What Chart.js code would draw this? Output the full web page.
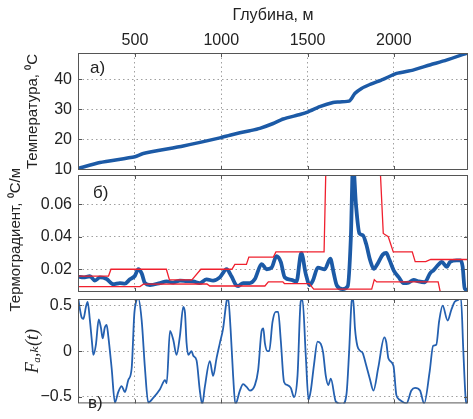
<!DOCTYPE html>
<html>
<head>
<meta charset="utf-8">
<script src="https://cdn.jsdelivr.net/npm/chart.js@4"></script>
<style>
  html, body { margin: 0; padding: 0; background: #fff; }
  #wrap { position: relative; width: 473px; height: 419px; }
  #wrap canvas { position: absolute; left: 0; top: 0; }
</style>
</head>
<body>
<div id="wrap">
  <canvas id="chartA" width="473" height="419"></canvas>
  <canvas id="chartB" width="473" height="419"></canvas>
  <canvas id="chartC" width="473" height="419"></canvas>
</div>
<script>
// ============================================================
// DATA
// ============================================================
const depthMin = 170, depthMax = 2430;
const depthTicks = [500, 1000, 1500, 2000];

// a) temperature
const tempTicks = [10, 20, 30, 40];
const tempDepth  = [170, 297, 500, 548, 780, 992, 1050, 1108, 1166, 1224, 1301, 1359, 1456, 1504, 1571, 1648, 1687, 1745, 1774, 1813, 1861, 1938, 2016, 2111, 2208, 2305, 2421, 2430];
const tempValues = [10.2, 12.2, 14.1, 15.2, 17.7, 20.4, 21.3, 22.1, 22.8, 23.6, 25.2, 26.7, 28.2, 29.1, 30.8, 32.2, 32.4, 32.8, 35.2, 36.9, 38.2, 39.9, 41.9, 43.0, 44.7, 46.3, 48.6, 48.8];

// б) thermal gradient + red bounds
const gradTicks = [0.02, 0.04, 0.06];
const gradDepth  = [170, 201, 239, 268, 297, 336, 374, 413, 442, 471, 500, 519, 539, 558, 587, 645, 684, 722, 761, 799, 838, 876, 915, 953, 992, 1031, 1060, 1085, 1098, 1127, 1166, 1195, 1234, 1263, 1292, 1320, 1345, 1368, 1407, 1436, 1464, 1490, 1513, 1531, 1560, 1600, 1632, 1652, 1670, 1704, 1733, 1751, 1764, 1781, 1801, 1820, 1840, 1863, 1884, 1904, 1936, 1956, 1974, 2000, 2027, 2056, 2086, 2115, 2144, 2179, 2210, 2231, 2260, 2278, 2307, 2326, 2364, 2388, 2399, 2411, 2428];
const gradValues = [0.0155, 0.0150, 0.0157, 0.0130, 0.0150, 0.0140, 0.0108, 0.0115, 0.0112, 0.0138, 0.0160, 0.0200, 0.0175, 0.0115, 0.0103, 0.0115, 0.0125, 0.0118, 0.0130, 0.0127, 0.0125, 0.0115, 0.0138, 0.0130, 0.0150, 0.0200, 0.0155, 0.0103, 0.0097, 0.0115, 0.0115, 0.0140, 0.0232, 0.0200, 0.0210, 0.0280, 0.0245, 0.0150, 0.0135, 0.0124, 0.0300, 0.0170, 0.0103, 0.0130, 0.0210, 0.0200, 0.0265, 0.0175, 0.0100, 0.0078, 0.0095, 0.0390, 0.0850, 0.0594, 0.0420, 0.0410, 0.0355, 0.0255, 0.0202, 0.0230, 0.0290, 0.0300, 0.0260, 0.0192, 0.0153, 0.0115, 0.0118, 0.0135, 0.0125, 0.0120, 0.0175, 0.0195, 0.0230, 0.0245, 0.0215, 0.0245, 0.0255, 0.0255, 0.0215, 0.0081, 0.0071];

const upperDepth  = [170, 347, 361, 682, 700, 830, 882, 1062, 1079, 1146, 1160, 1302, 1317, 1596, 1610, 1913, 1939, 1968, 1997, 2107, 2124, 2185, 2214, 2430];
const upperValues = [0.0158, 0.0158, 0.0200, 0.0200, 0.0135, 0.0135, 0.0200, 0.0200, 0.0230, 0.0230, 0.0275, 0.0275, 0.0307, 0.0307, 0.1, 0.1, 0.0420, 0.0400, 0.0307, 0.0307, 0.0247, 0.0247, 0.0260, 0.0260];

const lowerDepth  = [170, 529, 549, 917, 934, 1253, 1273, 1357, 1366, 1510, 1536, 1872, 1887, 1901, 2257, 2269, 2430];
const lowerValues = [0.0093, 0.0093, 0.0108, 0.0110, 0.0097, 0.0097, 0.0122, 0.0122, 0.0112, 0.0112, 0.0078, 0.0078, 0.0136, 0.0122, 0.0122, 0.0062, 0.0062];

// в) F_a,k(t)
const funcTicks = [-0.5, 0, 0.5];
const funcDepth  = [172, 182, 191, 201, 216, 226, 239, 251, 259, 274, 290, 303, 313, 325, 336, 345, 365, 384, 403, 423, 442, 461, 481, 496, 508, 519, 539, 558, 577, 606, 645, 674, 684, 703, 722, 741, 761, 780, 790, 799, 809, 828, 838, 857, 876, 890, 905, 934, 953, 973, 992, 1011, 1031, 1040, 1054, 1069, 1082, 1108, 1127, 1147, 1166, 1195, 1214, 1234, 1244, 1253, 1268, 1278, 1297, 1316, 1330, 1345, 1364, 1384, 1403, 1422, 1442, 1461, 1471, 1490, 1506, 1519, 1538, 1558, 1577, 1590, 1606, 1620, 1635, 1664, 1703, 1726, 1741, 1756, 1764, 1775, 1789, 1808, 1820, 1838, 1861, 1882, 1910, 1945, 1956, 1969, 1998, 2015, 2034, 2073, 2102, 2123, 2152, 2176, 2208, 2228, 2246, 2263, 2283, 2312, 2333, 2353, 2373, 2389, 2403, 2417, 2428];
const funcValues = [0.57, 0.45, 0.37, 0.353, 0.484, 0.539, 0.337, 0.10, -0.04, 0.075, 0.347, 0.255, 0.141, 0.255, 0.288, 0.174, -0.186, -0.56, -0.447, -0.382, -0.447, -0.317, -0.186, 0.40, 0.55, 0.58, 0.337, -0.186, -0.56, -0.51, -0.415, -0.317, -0.35, 0.222, 0.124, -0.04, 0.174, 0.484, 0.418, 0.092, -0.04, 0.0, -0.05, -0.1, -0.43, -0.58, -0.39, -0.108, -0.27, -0.075, 0.088, 0.25, 0.546, 0.58, 0.25, -0.27, -0.58, -0.43, -0.36, -0.39, -0.43, -0.37, -0.206, 0.22, 0.25, 0.088, 0.0, 0.0, 0.318, 0.43, 0.43, 0.12, -0.336, -0.37, -0.40, -0.5, -0.27, 0.546, 0.56, -0.05, -0.53, -0.43, -0.14, 0.105, 0.08, -0.01, -0.27, -0.37, -0.30, -0.55, -0.58, -0.467, -0.01, 0.546, 0.58, 0.25, 0.056, 0.0, -0.02, -0.14, -0.30, -0.43, -0.18, 0.15, 0.10, -0.08, -0.16, -0.48, -0.53, -0.57, -0.43, -0.40, -0.43, -0.57, -0.22, 0.06, 0.07, 0.33, 0.497, 0.335, 0.45, 0.54, 0.56, 0.58, 0.0, -0.53, -0.6];

// ============================================================
// HELPERS
// ============================================================
const FONT = '"Liberation Sans", Arial, sans-serif';
const TEXT = '#222';
const BLUE = '#1c5aa6';
const RED = '#f0202e';

function pts(xs, ys) {
  return xs.map((x, i) => ({ x: x, y: ys[i] }));
}

/**
 * Box around the plot area, MATLAB-like inner ticks, panel letter
 */
const framePlugin = {
  id: 'frame',
  afterDraw(chart, args, opts) {
    const { ctx, chartArea: a, scales } = chart;
    ctx.save();
    ctx.strokeStyle = '#555';
    ctx.lineWidth = 1;
    ctx.strokeRect(a.left + 0.5, a.top + 0.5, a.right - a.left - 1, a.bottom - a.top - 1);

    ctx.beginPath();
    depthTicks.forEach(v => {
      const x = Math.round(scales.x.getPixelForValue(v)) + 0.5;
      ctx.moveTo(x, a.top); ctx.lineTo(x, a.top + 4);
      ctx.moveTo(x, a.bottom); ctx.lineTo(x, a.bottom - 4);
    });
    (opts.yTicks || []).forEach(v => {
      const y = Math.round(scales.y.getPixelForValue(v)) + 0.5;
      ctx.moveTo(a.left, y); ctx.lineTo(a.left + 4, y);
      ctx.moveTo(a.right, y); ctx.lineTo(a.right - 4, y);
    });
    ctx.stroke();

    if (opts.label) {
      ctx.fillStyle = TEXT;
      ctx.font = '17px ' + FONT;
      ctx.textBaseline = 'alphabetic';
      ctx.fillText(opts.label, a.left + opts.lx, a.top + opts.ly);
    }
    ctx.restore();
  }
};

function makePanel(id, p) {
  const xAxis = {
    type: 'linear',
    position: p.top ? 'top' : 'bottom',
    min: depthMin,
    max: depthMax,
    afterBuildTicks: s => { s.ticks = depthTicks.map(v => ({ value: v })); },
    afterFit: s => { s.height = p.xHeight; },
    grid: { color: '#a0a0a0', lineWidth: 1, drawTicks: false },
    border: { display: false, dash: [1.5, 3] },
    ticks: {
      display: !!p.top,
      padding: 3,
      maxRotation: 0,
      color: TEXT,
      font: { family: FONT, size: 16 },
      callback: v => String(v)
    },
    title: {
      display: !!p.top,
      text: 'Глубина, м',
      color: TEXT,
      font: { family: FONT, size: 16 },
      padding: { top: 6, bottom: 0 }
    }
  };

  const yAxis = {
    type: 'linear',
    min: p.yMin,
    max: p.yMax,
    afterBuildTicks: s => { s.ticks = p.yTicks.map(v => ({ value: v })); },
    afterFit: s => { s.width = 78 - p.padLeft; },
    grid: { color: '#a0a0a0', lineWidth: 1, drawTicks: false },
    border: { display: false, dash: [1.5, 3] },
    ticks: {
      padding: 6,
      color: TEXT,
      font: { family: FONT, size: 16 },
      callback: p.tickFmt
    },
    title: {
      display: true,
      text: p.yTitle,
      color: TEXT,
      font: p.yTitleFont,
      padding: { top: 4, bottom: 0 }
    }
  };

  return new Chart(document.getElementById(id), {
    type: 'line',
    plugins: [framePlugin],
    data: { datasets: p.datasets },
    options: {
      responsive: false,
      animation: false,
      devicePixelRatio: 1,
      layout: { padding: { left: p.padLeft, right: 5, top: p.padTop, bottom: p.padBottom } },
      elements: { point: { radius: 0 } },
      plugins: {
        legend: { display: false },
        tooltip: { enabled: false },
        frame: { yTicks: p.yTicks, label: p.label, lx: p.lx, ly: p.ly }
      },
      scales: { x: xAxis, y: yAxis }
    }
  });
}

// ============================================================
// PANELS
// ============================================================
makePanel('chartA', {
  top: true, xHeight: 53, padTop: 0, padBottom: 249, padLeft: 20,
  yMin: 9.7, yMax: 48.7, yTicks: tempTicks,
  tickFmt: v => String(v),
  yTitle: 'Температура, ⁰C',
  yTitleFont: { family: FONT, size: 15 },
  label: 'a)', lx: 12, ly: 20,
  datasets: [{
    data: pts(tempDepth, tempValues),
    borderColor: BLUE, borderWidth: 3.5, tension: 0.2, fill: false
  }]
});

makePanel('chartB', {
  top: false, xHeight: 0, padTop: 175, padBottom: 127, padLeft: 3,
  yMin: 0.006, yMax: 0.078, yTicks: gradTicks,
  tickFmt: v => v.toFixed(2),
  yTitle: 'Термоградиент, ⁰C/м   ',
  yTitleFont: { family: FONT, size: 15 },
  label: 'б)', lx: 15, ly: 23,
  datasets: [
    { data: pts(upperDepth, upperValues), borderColor: RED, borderWidth: 1.3, tension: 0, fill: false },
    { data: pts(lowerDepth, lowerValues), borderColor: RED, borderWidth: 1.3, tension: 0, fill: false },
    { data: pts(gradDepth, gradValues), borderColor: BLUE, borderWidth: 3.8, cubicInterpolationMode: 'monotone', fill: false }
  ]
});

makePanel('chartC', {
  top: false, xHeight: 0, padTop: 299, padBottom: 3, padLeft: 18,
  yMin: -0.57, yMax: 0.57, yTicks: funcTicks,
  tickFmt: v => String(v).replace('-', '−'),
  yTitle: 'Fₐ,ₖ(t)',
  yTitleFont: { family: '"Liberation Serif", "DejaVu Serif", serif', size: 18, style: 'italic' },
  label: 'в)', lx: 10, ly: 109,
  datasets: [{
    data: pts(funcDepth, funcValues),
    borderColor: '#2460b0', borderWidth: 1.8, cubicInterpolationMode: 'monotone', fill: false
  }]
});
</script>
</body>
</html>
